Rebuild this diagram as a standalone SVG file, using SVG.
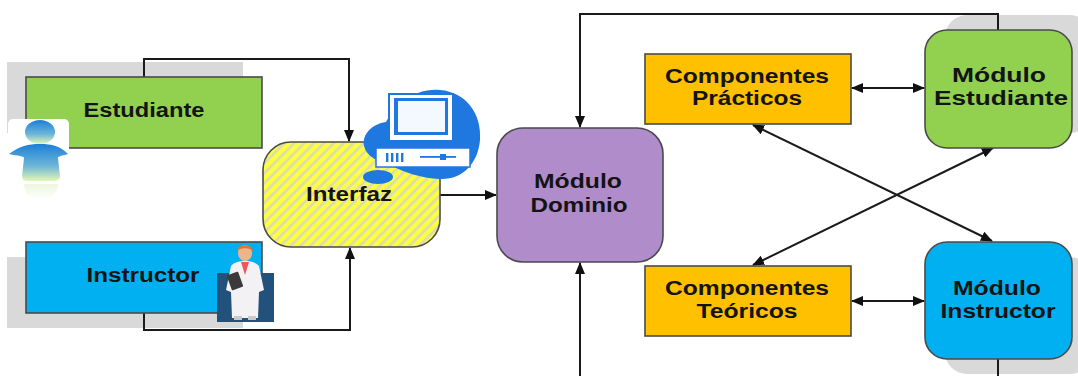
<svg xmlns="http://www.w3.org/2000/svg" width="1078" height="376" viewBox="0 0 1078 376">
  <style>
    .box { stroke: #4a4a4a; stroke-width: 1.6; }
    .shadow { fill: #d9d9d9; }
    .lbl { font-family: "Liberation Sans", Arial, sans-serif; font-weight: bold; font-size: 19.5px; fill: #141414; text-anchor: middle; }
    .wire { fill: none; stroke: #1a1a1a; stroke-width: 2; }
  </style>
  <defs>
    <marker id="arrow" markerUnits="userSpaceOnUse" markerWidth="12" markerHeight="10" refX="11" refY="5" orient="auto-start-reverse">
      <path d="M0,0 L12,5 L0,10 z" fill="#111"/>
    </marker>
    <pattern id="hatch" patternUnits="userSpaceOnUse" width="7" height="7" patternTransform="rotate(45)">
      <rect width="7" height="7" fill="#ffff3c"/>
      <rect width="2.6" height="7" fill="#d9dcb4"/>
    </pattern>
    <linearGradient id="figGrad" x1="0" y1="0" x2="0" y2="1">
      <stop offset="0" stop-color="#1b7fd6"/>
      <stop offset="0.6" stop-color="#6fb7d8"/>
      <stop offset="1" stop-color="#e4f7b4"/>
    </linearGradient>
    <linearGradient id="reflGrad" x1="0" y1="0" x2="0" y2="1">
      <stop offset="0" stop-color="#e9f4d6"/>
      <stop offset="1" stop-color="#ffffff"/>
    </linearGradient>
  </defs>

  <!-- shadows behind boxes -->
  <rect class="shadow" x="7" y="62" width="236" height="71"/>
  <rect class="shadow" x="7" y="257" width="236" height="71"/>
  <rect class="shadow" x="945" y="15" width="147" height="118" rx="22"/>
  <rect class="shadow" x="945" y="257" width="147" height="117" rx="22"/>

  <!-- connectors -->
  <g id="connectors">
    <path class="wire" d="M144,77 V59 H349 V141" marker-end="url(#arrow)"/>
    <path class="wire" d="M144,313 V330 H350 V248" marker-end="url(#arrow)"/>
    <path class="wire" d="M440,195 H496" marker-end="url(#arrow)"/>
    <path class="wire" d="M998,30 V14 H580 V127" marker-end="url(#arrow)"/>
    <path class="wire" d="M580,376 V263" marker-end="url(#arrow)"/>
    <path class="wire" d="M998,359 V376"/>
    <path class="wire" d="M852,88 H924" marker-start="url(#arrow)" marker-end="url(#arrow)"/>
    <path class="wire" d="M852,301 H924" marker-start="url(#arrow)" marker-end="url(#arrow)"/>
    <path class="wire" d="M753,125 L992,241" marker-start="url(#arrow)" marker-end="url(#arrow)"/>
    <path class="wire" d="M993,148 L753,265" marker-start="url(#arrow)" marker-end="url(#arrow)"/>
  </g>

  <!-- Estudiante -->
  <g id="estudiante">
    <rect class="box" x="26" y="77" width="236" height="71" fill="#92d050"/>
    <text class="lbl" x="144" y="117" textLength="121" lengthAdjust="spacingAndGlyphs">Estudiante</text>
    <!-- student figure -->
    <rect x="8" y="119" width="61" height="62" rx="5" fill="#ffffff"/>
    <ellipse cx="40" cy="132" rx="15" ry="12" fill="url(#figGrad)"/>
    <path d="M9,154 C20,146 28,144 40,144 C52,144 60,146 68,154 C62,156 58,156 58,158 L60,176 C60,180 57,181 53,181 L28,181 C24,181 22,180 22,176 L24,158 C24,156 18,156 9,154 z" fill="url(#figGrad)"/>
    <path d="M24,184 L58,184 C58,192 52,200 40,200 C28,200 24,192 24,184 z" fill="url(#reflGrad)" opacity="0.8"/>
  </g>

  <!-- Instructor -->
  <g id="instructor">
    <rect class="box" x="26" y="242" width="236" height="71" fill="#00b0f0"/>
    <text class="lbl" x="143" y="282" textLength="113" lengthAdjust="spacingAndGlyphs">Instructor</text>
    <!-- teacher figure -->
    <rect x="217" y="273" width="57" height="49" fill="#22527c"/>
    <path d="M231,266 C234,262 240,261 245,261 C250,261 256,262 259,266 L264,290 L259,292 L258,318 L232,318 L231,292 L226,290 z" fill="#f4f1f4"/>
    <path d="M241,262 L245,275 L249,262 z" fill="#e85a5a"/>
    <ellipse cx="245" cy="253" rx="7" ry="8" fill="#f0b48a"/>
    <path d="M237,252 C236,243 254,243 253,252 C251,247 239,247 237,252 z" fill="#d9782e"/>
    <rect x="229" y="273" width="12" height="16" rx="1" fill="#3a3a3a" transform="rotate(-20 235 281)"/>
    <rect x="234" y="316" width="8" height="4" fill="#c9c9c9"/>
    <rect x="248" y="316" width="8" height="4" fill="#c9c9c9"/>
  </g>

  <!-- Interfaz -->
  <g id="interfaz">
    <rect class="box" x="263" y="142" width="177" height="105" rx="28" fill="url(#hatch)"/>
    <text class="lbl" x="349" y="201" textLength="86" lengthAdjust="spacingAndGlyphs">Interfaz</text>
    <!-- computer icon -->
    <path d="M440,90 C466,92 482,114 480,140 C478,164 462,180 440,179 C420,178 404,172 392,166 C378,162 366,156 364,146 C362,134 372,124 386,122 C396,104 414,88 440,90 z" fill="#1e78e0"/>
    <ellipse cx="378" cy="177" rx="15" ry="7" fill="#1e78e0"/>
    <rect x="389" y="94" width="64" height="47" fill="#ffffff" stroke="#1e78e0" stroke-width="2"/>
    <rect x="394" y="98" width="54" height="37" fill="#1e78e0"/>
    <rect x="398" y="101" width="47" height="31" fill="#f4f8ff"/>
    <rect x="376" y="148" width="94" height="19" fill="#ffffff" stroke="#1e78e0" stroke-width="1.5"/>
    <rect x="386" y="153" width="2.4" height="9" fill="#1e78e0"/>
    <rect x="391" y="153" width="2.4" height="9" fill="#1e78e0"/>
    <rect x="396" y="153" width="2.4" height="9" fill="#1e78e0"/>
    <rect x="401" y="153" width="2.4" height="9" fill="#1e78e0"/>
    <rect x="420" y="156" width="36" height="1.8" fill="#1e78e0"/>
    <rect x="440" y="154" width="6" height="6" fill="#1e78e0"/>
  </g>

  <!-- Módulo Dominio -->
  <g id="dominio">
    <rect class="box" x="497" y="128" width="166" height="134" rx="26" fill="#b08ccb"/>
    <text class="lbl" x="578" y="188" textLength="88" lengthAdjust="spacingAndGlyphs">Módulo</text>
    <text class="lbl" x="579" y="212" textLength="97" lengthAdjust="spacingAndGlyphs">Dominio</text>
  </g>

  <!-- Componentes Prácticos -->
  <g id="practicos">
    <rect class="box" x="645" y="54" width="206" height="70" fill="#ffc000"/>
    <text class="lbl" x="747" y="83" textLength="164" lengthAdjust="spacingAndGlyphs">Componentes</text>
    <text class="lbl" x="747" y="105" textLength="110" lengthAdjust="spacingAndGlyphs">Prácticos</text>
  </g>

  <!-- Módulo Estudiante -->
  <g id="modulo-estudiante">
    <rect class="box" x="925" y="30" width="147" height="118" rx="22" fill="#92d050"/>
    <text class="lbl" x="999" y="82" textLength="94" lengthAdjust="spacingAndGlyphs">Módulo</text>
    <text class="lbl" x="1001" y="105" textLength="134" lengthAdjust="spacingAndGlyphs">Estudiante</text>
  </g>

  <!-- Componentes Teóricos -->
  <g id="teoricos">
    <rect class="box" x="645" y="266" width="206" height="70" fill="#ffc000"/>
    <text class="lbl" x="747" y="295" textLength="164" lengthAdjust="spacingAndGlyphs">Componentes</text>
    <text class="lbl" x="747" y="318" textLength="101" lengthAdjust="spacingAndGlyphs">Teóricos</text>
  </g>

  <!-- Módulo Instructor -->
  <g id="modulo-instructor">
    <rect class="box" x="925" y="242" width="147" height="117" rx="22" fill="#00b0f0"/>
    <text class="lbl" x="997" y="295" textLength="88" lengthAdjust="spacingAndGlyphs">Módulo</text>
    <text class="lbl" x="998" y="318" textLength="115" lengthAdjust="spacingAndGlyphs">Instructor</text>
  </g>
</svg>
